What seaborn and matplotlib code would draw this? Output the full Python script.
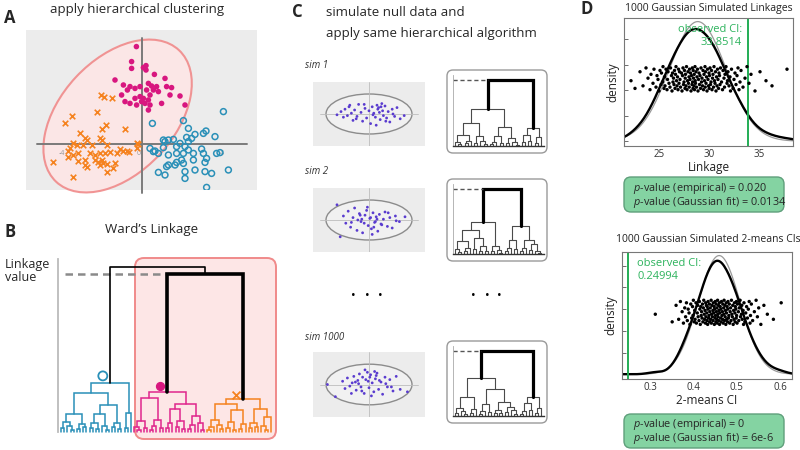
"""
Hierarchical clustering significance figure (panels A-D).
Saves out.png (800x450).
"""

import numpy as np
import matplotlib
matplotlib.use("Agg")
import matplotlib.pyplot as plt
from matplotlib.patches import Ellipse, FancyBboxPatch
from matplotlib.ticker import MaxNLocator
import seaborn as sns


# ---------- Panel A: observed 2-D data ----------
A_PINK_X = [-0.28, -0.52, -0.52, 0.07, 0.20, 0.20, 0.62, -1.35, -0.93, -1.02,
            -0.73, -0.60, -0.35, -0.10, 0.32, 0.48, 0.73, 1.15, 1.23, 1.48,
            0.82, 0.23, 0.40, 0.07, -0.02, 0.15, 0.32, -0.35, -0.60, -0.85,
            -0.10, 1.40, 1.90, 2.15, 0.98, 0.32, -0.27, 0.40, 0.57]
A_PINK_Y = [4.87, 4.12, 3.78, 3.82, 3.92, 3.70, 3.48, 3.20, 2.95, 2.45,
            2.70, 2.87, 2.78, 2.87, 3.03, 2.90, 2.87, 3.28, 2.87, 2.82,
            2.62, 2.70, 2.45, 2.28, 2.12, 2.03, 2.20, 2.28, 2.03, 2.12,
            2.37, 2.45, 2.40, 1.95, 2.03, 1.70, 1.95, 1.95, 2.70]

A_BLUE_X = [4.07, 2.07, 0.52, 2.32, 3.07, 3.20, 3.65, 2.23, 2.48, 2.65,
            1.07, 1.32, 1.57, 1.90, 2.15, 2.32, 2.98, 2.57, 2.07, 1.73,
            1.32, 0.82, 0.57, 0.40, 0.65, 1.07, 1.15, 3.73, 3.90, 3.07,
            3.23, 3.15, 2.57, 1.98, 1.73, 1.65, 1.32, 1.23, 2.07, 2.65,
            2.15, 2.15, 1.15, 0.82, 3.15, 3.48, 4.32, 3.23, 2.32, 1.73]
A_BLUE_Y = [1.62, 1.17, 1.03, 0.78, 0.53, 0.65, 0.37, 0.33, 0.28, 0.48,
            0.20, 0.20, 0.23, 0.03, -0.13, -0.30, -0.25, -0.47, -0.47, -0.47,
            -0.55, -0.47, -0.38, -0.22, -0.35, -0.18, 0.12, -0.47, -0.43, -0.47,
            -0.72, -0.92, -0.80, -0.80, -0.92, -1.05, -1.05, -1.13, -0.97, -1.30,
            -1.38, -1.72, -1.55, -1.42, -1.38, -1.47, -1.30, -2.17, 0.12, -0.13]

A_ORANGE_X = [-2.05, -1.90, -1.52, -3.52, -3.85, -2.27, -1.80, -2.02, -0.85, -3.10,
              -2.85, -2.77, -2.10, -2.02, -3.43, -3.27, -3.60, -2.93, -2.52, -1.77,
              -3.68, -3.43, -3.18, -2.60, -2.35, -2.10, -1.85, -1.60, -1.10, -0.93,
              -0.77, -0.63, -0.27, -0.18, -0.27, -4.43, -3.68, -3.18, -2.85, -2.77,
              -2.18, -2.02, -1.93, -2.10, -1.77, -1.35, -1.43, -1.77, -3.43, -2.85,
              -2.35, -1.27]
A_ORANGE_Y = [2.45, 2.37, 2.32, 1.40, 1.03, 1.58, 0.95, 0.75, 0.75, 0.53,
              0.28, 0.20, 0.28, 0.20, 0.03, -0.05, -0.22, -0.05, -0.05, -0.05,
              -0.35, -0.55, -0.47, -0.47, -0.55, -0.47, -0.47, -0.38, -0.25, -0.35,
              -0.35, -0.38, 0.03, -0.02, -0.22, -0.88, -0.63, -0.85, -0.80, -1.13,
              -0.88, -0.80, -0.97, -1.05, -1.02, -0.97, -1.22, -1.38, -1.63, -1.05,
              -0.80, -0.47]

# cluster ellipse around the merged magenta + orange group
A_ELLIPSE_CENTER = (-1.22, 1.4)
A_ELLIPSE_AXES = (9.0, 5.7)
A_ELLIPSE_ANGLE = 47

# ---------- Panel B: Ward's linkage tree  [height, left, right], leaf = 0 ----------
TREE_BLUE = [10.5,
             [8.3,
              [3.9, [2.2, [0.9, 0, 0], [1.2, 0, [0.5, 0, 0]]], [1.8, [0.7, 0, 0], [1.0, 0, 0]]],
              [5.8, [3.9, [1.9, [0.8, 0, 0], [0.6, 0, 0]], [1.3, 0, [0.4, 0, 0]]],
               [2.0, [1.1, 0, 0], [0.7, 0, 0]]]],
             [4.1, [0.8, 0, 0], 0]]
TREE_MAGENTA = [8.6,
                [7.35, [2.3, [1.0, 0, [0.4, 0, 0]], [0.8, 0, 0]],
                 [2.6, [1.2, [0.5, 0, 0], 0], [0.9, 0, 0]]],
                [6.0, [4.9, [2.0, [0.8, 0, 0], 0], [2.4, [1.0, 0, 0], [0.6, 0, 0]]],
                 [3.5, [1.6, [0.7, 0, 0], 0], [2.0, 0, [0.5, 0, 0]]]]]
TREE_ORANGE = [7.0,
               [6.0, [2.6, [1.0, [0.4, 0, 0], 0], [1.5, 0, [0.6, 0, 0]]],
                [4.6, [2.2, [0.9, 0, 0], [0.5, 0, 0]], [1.7, [0.7, 0, 0], 0]]],
               [5.0, [2.0, [0.8, 0, 0], [1.1, 0, 0]], [3.3, [1.2, 0, [0.4, 0, 0]], 0]]]
LINK_MO = 33.85     # magenta + orange merge (observed linkage)
LINK_TOP = 35.3     # final merge
B_TICKS = [0, 5, 10, 15, 20, 25, 30, 35]

# ---------- Panel C: null simulations ----------
SIM_NAMES = ["sim 1", "sim 2", "sim 1000"]
SIM1_X = [-4.0, -3.5, -3.2, -3.0, -2.7, -2.5, -2.2, -2.0, -1.8, -1.5,
          -1.3, -1.0, -0.8, -0.5, -0.3, 0.0, 0.2, 0.4, 0.6, 0.8,
          1.0, 1.1, 1.3, 1.4, 1.5, 1.7, 1.8, 2.0, 2.2, 2.4,
          2.6, 2.9, 3.2, 3.5, 3.9, 4.4, 0.9, 1.6, -0.6, 2.1,
          -1.6, 0.5, 1.2, -2.4, 3.0]
SIM1_Y = [-0.1, 0.3, -0.4, 0.6, -0.2, 0.9, 0.1, -0.8, 0.5, -0.3,
          1.2, 0.2, -0.9, 0.7, -0.5, 0.4, -1.2, 0.9, 0.1, -0.4,
          1.1, 0.6, 0.2, -0.7, 0.9, 0.4, -0.2, 1.0, -0.5, 0.3,
          -1.0, 0.6, -0.3, 0.8, -0.6, -0.2, -1.4, 1.3, 1.2, -0.9,
          -0.6, -0.1, 0.8, 1.1, 0.0]
SIM2_X = [-4.0, -3.6, -3.2, -2.9, -2.6, -2.3, -2.0, -1.8, -1.5, -1.2,
          -1.0, -0.8, -0.5, -0.3, -0.1, 0.1, 0.3, 0.5, 0.7, 0.9,
          1.1, 1.3, 1.5, 1.8, 2.0, 2.3, 2.6, 2.9, 3.3, 3.8,
          4.5, -1.4, -0.6, 0.2, 0.6, 1.0, -2.2, 1.6, -0.2, 0.4,
          -1.1, 2.4, -0.9, 3.4, 0.8]
SIM2_Y = [1.9, -2.1, 0.5, -0.4, 1.1, -0.9, 0.3, 1.5, -1.3, 0.8,
          -0.2, -1.6, 0.6, 1.2, -0.7, 0.2, -1.1, 0.9, -0.3, 0.4,
          -1.4, 0.7, -0.5, 0.1, 1.0, -0.8, 0.3, -1.0, 0.5, -0.2,
          0.4, 0.0, -0.4, 0.3, -0.9, 0.1, -0.3, -0.6, 1.6, -1.8,
          0.6, 0.9, 0.1, -0.1, -0.2]
SIM1000_X = [-5.2, -4.2, -3.3, -3.0, -2.7, -2.4, -2.1, -1.9, -1.6, -1.4,
             -1.2, -1.0, -0.8, -0.6, -0.4, -0.2, 0.0, 0.2, 0.4, 0.6,
             0.8, 1.0, 1.2, 1.5, 1.7, 2.0, 2.3, 2.6, 3.0, 3.4,
             3.9, 4.8, -0.5, 0.1, 0.7, -1.3, 1.3, -0.9, 0.3, -2.2,
             2.1, -0.1, 0.9, -1.7, 2.8]
SIM1000_Y = [0.0, -1.5, 0.4, -0.5, 0.8, -0.2, 0.2, 1.0, -0.7, 0.5,
             1.3, -0.3, 0.9, -1.1, 0.6, 1.5, -0.4, 1.2, 0.2, -0.9,
             0.7, 1.4, -0.6, 0.3, -1.2, 0.9, -0.3, 0.6, -0.8, 1.0,
             -0.6, -0.9, 1.8, 0.9, 1.6, 0.1, 0.5, -0.8, -1.4, -1.1,
             0.1, 0.4, 1.1, 0.3, -0.3]
SIM_ELLIPSE_AXES = (10.75, 5.0)

TREE_SIM1 = [100,
             [56, [34.5, [16, [6, 0, [3, 0, 0]], [8, [4, 0, 0], 0]],
                   [14.5, [5, 0, 0], [7, 0, [3, 0, 0]]]],
              [29.5, [14.5, [6, [3, 0, 0], 0], [5, 0, 0]],
               [12, [4, 0, 0], [6, 0, [2, 0, 0]]]]],
             [27.5, [17, [6, 0, 0], [8, 0, 0]], [13.5, [5, 0, 0], 0]]]
TREE_SIM2 = [100,
             [50, [37, [20, [7, 0, [3, 0, 0]], [9, [4, 0, 0], 0]],
                   [24, [8, 0, 0], [12, [5, 0, 0], [4, 0, 0]]]],
              [12, [5, 0, 0], [6, 0, [2, 0, 0]]]],
             [43, [22, [9, [4, 0, 0], 0], [7, 0, 0]],
              [22, [10, [4, 0, 0], 0], [15, [6, 0, 0], [5, 0, [2, 0, 0]]]]]]
TREE_SIM1000 = [100,
                [59, [30, [13, [5, 0, 0], [7, 0, [3, 0, 0]]], [11, [4, 0, 0], 0]],
                 [42, [18, [8, [3, 0, 0], 0], [6, 0, 0]],
                  [22, [10, [4, 0, 0], [5, 0, 0]], [14, [6, 0, 0], [9, 0, [3, 0, 0]]]]]],
                [30, [20, [8, [3, 0, 0], 0], [10, 0, 0]], [12, [5, 0, 0], 0]]]

# ---------- Panel D: null distributions (subsample of the 1000 sims) ----------
LINKAGES = [22.2, 22.6, 23.1,
            23.4, 23.7, 23.9, 24.1, 24.2,
            24.4, 24.5, 24.7, 24.8, 24.9, 25.0, 25.1, 25.2, 25.25,
            25.35, 25.4, 25.5, 25.55, 25.6, 25.7, 25.8, 25.85, 25.9, 26.0, 26.1, 26.15, 26.25,
            26.3, 26.35, 26.4, 26.45, 26.5, 26.55, 26.6, 26.65, 26.7, 26.75,
            26.8, 26.85, 26.9, 26.95, 27.0, 27.05, 27.1, 27.15, 27.25,
            27.3, 27.35, 27.4, 27.45, 27.5, 27.55, 27.6, 27.62, 27.65, 27.7, 27.75,
            27.8, 27.85, 27.9, 27.95, 28.0, 28.02, 28.05, 28.1, 28.15, 28.2, 28.25,
            28.3, 28.33, 28.36, 28.4, 28.42, 28.45, 28.5, 28.52, 28.55, 28.6, 28.62, 28.65,
            28.7, 28.75, 28.8, 28.85, 28.9, 28.95, 29.0, 29.05, 29.1, 29.15, 29.2, 29.25,
            29.3, 29.35, 29.4, 29.45, 29.5, 29.55, 29.6, 29.62, 29.65, 29.7, 29.75,
            29.8, 29.85, 29.9, 29.95, 30.0, 30.02, 30.05, 30.1, 30.15, 30.2, 30.25,
            30.3, 30.35, 30.4, 30.45, 30.5, 30.55, 30.6, 30.65, 30.7, 30.75,
            30.8, 30.85, 30.9, 30.95, 31.0, 31.05, 31.1, 31.15, 31.25,
            31.35, 31.4, 31.5, 31.55, 31.6, 31.7, 31.8, 31.85, 31.9, 32.0, 32.1, 32.15, 32.25,
            32.4, 32.5, 32.6, 32.7, 32.8, 32.9, 33.0, 33.1, 33.2,
            33.4, 33.6, 33.8, 34.0, 34.2,
            34.6, 35.1, 35.7, 36.3, 37.8]
KMEANS_CI = [0.312, 0.351, 0.360,
             0.366, 0.370, 0.374, 0.377, 0.380,
             0.382, 0.384, 0.386, 0.388, 0.390, 0.392, 0.394, 0.396, 0.398,
             0.399, 0.400, 0.402, 0.403, 0.404, 0.406, 0.407, 0.409, 0.410, 0.411, 0.413,
             0.414, 0.415,
             0.416, 0.417, 0.418, 0.419, 0.420, 0.421, 0.422, 0.423, 0.424, 0.425,
             0.426, 0.427, 0.428, 0.4285, 0.429, 0.430, 0.431, 0.4315, 0.432,
             0.433, 0.4335, 0.434, 0.435, 0.436, 0.437, 0.4375, 0.438, 0.439, 0.440, 0.441,
             0.4415, 0.442, 0.443, 0.444, 0.445, 0.4455, 0.446, 0.447, 0.448, 0.4485, 0.449,
             0.450, 0.4505, 0.451, 0.452, 0.4525, 0.453, 0.454, 0.4545, 0.455, 0.456, 0.4565,
             0.457, 0.458, 0.4585, 0.459, 0.460, 0.4605, 0.461, 0.462, 0.463, 0.4635, 0.464,
             0.465, 0.466,
             0.467, 0.4675, 0.468, 0.469, 0.470, 0.4705, 0.471, 0.472, 0.473, 0.4735, 0.474,
             0.475, 0.476, 0.4765, 0.477, 0.478, 0.479, 0.4795, 0.480, 0.481, 0.482, 0.483,
             0.484, 0.485, 0.486, 0.487, 0.488, 0.489, 0.490, 0.491, 0.492, 0.493,
             0.494, 0.495, 0.496, 0.4965, 0.497, 0.498, 0.499, 0.4995, 0.500,
             0.501, 0.502, 0.504, 0.505, 0.506, 0.508, 0.509, 0.511, 0.512, 0.513, 0.515,
             0.516, 0.517,
             0.519, 0.521, 0.523, 0.525, 0.527, 0.529, 0.531, 0.532, 0.534,
             0.537, 0.541, 0.545, 0.548, 0.551,
             0.556, 0.563, 0.571, 0.585, 0.603]
# vertical jitter of the strip, percent of axes height
JITTER = [51, 45, 58, 47, 61, 53, 44, 56, 49, 60, 46, 55, 52, 43, 59, 48, 57, 50, 62, 45,
          54, 47, 60, 44, 52, 58, 49, 46, 61, 55, 43, 57, 50, 53, 48, 59, 45, 56, 62, 51,
          47, 54, 44, 60, 49, 58, 52, 46, 57, 43, 55, 61, 48, 50, 59, 45, 53, 56, 47, 62,
          44, 51, 58, 49, 54, 46, 60, 52, 57, 43, 55, 48, 61, 50, 45, 59, 53, 47, 56, 44,
          62, 51, 49, 58, 46, 54, 60, 43, 52, 57, 48, 55, 45, 61, 50, 53, 47, 59, 44, 56,
          51, 62, 46, 58, 49, 54, 43, 60, 52, 47, 57, 45, 55, 61, 48, 50, 59, 44, 53, 56,
          46, 62, 51, 49, 58, 43, 54, 47, 60, 52, 45, 57, 55, 48, 61, 50, 44, 59, 53, 46,
          56, 62, 49, 51, 58, 47, 54, 43, 60, 45, 52, 57, 48, 55, 61, 44, 50, 59, 46, 53,
          62, 49, 56, 43, 58, 51, 47, 60]
OBS_LINKAGE = 33.8514
OBS_CI = 0.24994
P_LINKAGE = ("0.020", "0.0134")
P_CI = ("0", "6e-6")

# ---------- Style ----------
W, H = 800, 450
BLUE = "#2a90b8"
MAGENTA = "#d8177f"
ORANGE = "#f5821f"
PINK_FILL = "#fde6e6"
PINK_EDGE = "#f08a8a"
GREEN = "#22ad55"
PURPLE = "#5a3ccf"


def px_axes(fig, x0, y0, x1, y1, **kw):
    """Axes placed by pixel box (top-left origin)."""
    return fig.add_axes([x0 / W, 1 - y1 / H, (x1 - x0) / W, (y1 - y0) / H], **kw)


def tree_segments(node, pos, segs):
    if node == 0:
        x = pos[0]
        pos[0] += 1
        return x, 0.0
    h, left, right = node
    xl, hl = tree_segments(left, pos, segs)
    xr, hr = tree_segments(right, pos, segs)
    segs.append(([xl, xl, xr, xr], [hl, h, h, hr]))
    return (xl + xr) / 2, h


def count_leaves(node):
    return 1 if node == 0 else count_leaves(node[1]) + count_leaves(node[2])


def clean(ax):
    ax.set_xticks([])
    ax.set_yticks([])
    for s in ax.spines.values():
        s.set_visible(False)


def panel_a(fig):
    ax = px_axes(fig, 26, 30, 257, 190, zorder=1)
    ax.set_facecolor("#ececec")
    clean(ax)
    ax.set_xlim(-5.8, 5.75)
    ax.set_ylim(-2.3, 5.7)
    ax.add_patch(Ellipse(A_ELLIPSE_CENTER, *A_ELLIPSE_AXES, angle=A_ELLIPSE_ANGLE,
                         fc=PINK_FILL, ec=PINK_EDGE, lw=1.5, alpha=0.9, clip_on=False, zorder=1))
    ax.plot([-5.25, 5.25], [0, 0], color="#7a7a7a", lw=1.4, zorder=2)
    ax.plot([0, 0], [-2.45, 5.3], color="#7a7a7a", lw=1.4, zorder=2, clip_on=False)
    for v, lab in [(-4, "-4"), (-0.15, "0"), (4, "4")]:
        ax.text(v, -0.3, lab, fontsize=5, color="#999999", ha="center", va="top", zorder=2)
    sns.scatterplot(x=A_PINK_X, y=A_PINK_Y, ax=ax, color=MAGENTA, s=16,
                    edgecolor="none", zorder=3)
    sns.scatterplot(x=A_BLUE_X, y=A_BLUE_Y, ax=ax, facecolors="none", edgecolor=BLUE,
                    s=18, linewidth=1.1, zorder=3)
    sns.scatterplot(x=A_ORANGE_X, y=A_ORANGE_Y, ax=ax, marker="x", color=ORANGE,
                    s=16, linewidth=1.2, zorder=3)


def panel_b(fig):
    ax = px_axes(fig, 58, 259, 278, 432, zorder=1)
    ax.set_facecolor("none")
    pos = [0]
    roots = []
    for tree, col in [(TREE_BLUE, BLUE), (TREE_MAGENTA, "#e0258c"), (TREE_ORANGE, ORANGE)]:
        segs = []
        rx, rh = tree_segments(tree, pos, segs)
        roots.append((rx, rh))
        for xs, ys in segs:
            ax.plot(xs, ys, color=col, lw=1.1, clip_on=False, solid_joinstyle="miter")
    n = pos[0]
    s = 210 / (n - 1)
    x0 = -3 / s
    ax.set_xlim(x0, x0 + 220 / s)
    ax.set_ylim(0, 37)

    (bx, bh), (mx, mh), (ox, oh) = roots
    mo_x = (mx + ox) / 2
    ax.plot([x0 + 7 / s, mx], [LINK_MO, LINK_MO], color="#8a8a8a", lw=1.8,
            ls=(0, (3, 2)), zorder=1)
    ax.plot([bx, bx, mo_x, mo_x], [bh, LINK_TOP, LINK_TOP, LINK_MO], color="black", lw=1.2)
    ax.plot([mx, mx, ox, ox], [mh, LINK_MO, LINK_MO, oh], color="black", lw=2.6,
            solid_joinstyle="miter")

    dx = -7 / s
    ax.scatter(bx + dx, bh + 1.5, s=42, facecolors="none", edgecolors=BLUE, lw=1.3)
    ax.scatter(mx + dx, mh + 1.3, s=32, color=MAGENTA)
    ax.scatter(ox + dx, oh + 1.0, s=32, marker="x", color=ORANGE, lw=1.3)

    for k in ["top", "right", "bottom"]:
        ax.spines[k].set_visible(False)
    ax.spines["left"].set_color("#bbbbbb")
    ax.spines["left"].set_linewidth(1.3)
    ax.set_xticks([])
    ax.set_yticks(B_TICKS)
    ax.tick_params(axis="y", length=2, width=0.8, color="#bbbbbb", labelleft=False)


def panel_c(fig, bg):
    sims = [(SIM1_X, SIM1_Y, TREE_SIM1), (SIM2_X, SIM2_Y, TREE_SIM2),
            (SIM1000_X, SIM1000_Y, TREE_SIM1000)]
    scatter_rows = [(82, 146), (188, 252), (352, 417)]
    dendro_rows = [(70, 153), (179, 261), (341, 423)]
    label_rows = [66, 172, 337]
    for (sx, sy, tree), name, (sy0, sy1), (dy0, dy1), ly in zip(
            sims, SIM_NAMES, scatter_rows, dendro_rows, label_rows):
        bg.text(305, ly, name, fontsize=7, style="italic", color="#333333",
                ha="left", va="center")

        ax = px_axes(fig, 313, sy0, 425, sy1, zorder=1)
        ax.set_facecolor("#ececec")
        clean(ax)
        ax.set_xlim(-7, 7)
        ax.set_ylim(-4, 4)
        ax.plot([-6.1, 6.1], [0, 0], color="#bdbdbd", lw=0.6)
        ax.plot([0, 0], [-4, 4], color="#bdbdbd", lw=0.6)
        ax.add_patch(Ellipse((0, 0), *SIM_ELLIPSE_AXES, fc="#f1f1f1", ec="#8c8c8c",
                             lw=1.0, zorder=1))
        sns.scatterplot(x=sx, y=sy, ax=ax, color=PURPLE, s=4, edgecolor="none", zorder=3)

        bg.add_patch(FancyBboxPatch((447, dy0), 100, dy1 - dy0,
                                    boxstyle="round,pad=0,rounding_size=6",
                                    fc="white", ec="#9a9a9a", lw=1.0))
        ax2 = px_axes(fig, 453, dy0 + 5, 544, dy1 - 7, zorder=1)
        ax2.set_facecolor("none")
        segs = []
        tree_segments(tree, [0], segs)
        n = count_leaves(tree)
        s = (544 - 453 - 5) / (n - 1)
        x0 = -2 / s
        ax2.set_xlim(x0, x0 + (544 - 453) / s)
        ax2.set_ylim(0, 108)
        for xs, ys in segs[:-1]:
            ax2.plot(xs, ys, color="#4a4a4a", lw=0.8, clip_on=False)
        xs, ys = segs[-1]
        ax2.plot(xs, ys, color="black", lw=2.3, solid_joinstyle="miter")
        ax2.plot([x0, xs[0]], [ys[1], ys[1]], color="#555555", lw=1.0, ls=(0, (3, 2)))
        for k in ["top", "right"]:
            ax2.spines[k].set_visible(False)
        ax2.spines["left"].set_color("#aaaaaa")
        ax2.spines["left"].set_linewidth(0.6)
        ax2.spines["bottom"].set_color("#333333")
        ax2.spines["bottom"].set_linewidth(1.0)
        ax2.set_xticks([])
        ax2.set_yticks([0, 15, 30, 45, 60, 75, 90, 105])
        ax2.tick_params(axis="y", length=1.5, width=0.5, color="#aaaaaa", labelleft=False)

    for cx in (353, 367, 380, 473, 487, 499):
        bg.text(cx, 295, "\u2022", fontsize=9, ha="center", va="center", color="black")


def density_panel(ax, vals, obs, xlim, xticks, xlabel, note_x, note_ha):
    vals = np.asarray(vals)
    mu, sd = vals.mean(), vals.std()
    xs = np.linspace(xlim[0], xlim[1], 300)
    fit = np.exp(-0.5 * ((xs - mu) / sd) ** 2) / (sd * np.sqrt(2 * np.pi))
    sns.lineplot(x=xs, y=fit, ax=ax, color="#9a9a9a", lw=0.9)
    sns.kdeplot(x=vals, ax=ax, color="black", lw=1.7, cut=6)
    peak = fit.max()
    ax.set_xlim(*xlim)
    ax.set_ylim(-0.04 * peak, 1.03 * peak)
    ax.axvline(obs, color=GREEN, lw=1.4)
    ax.set_xticks(xticks)
    ax.set_xticklabels([f"{t:g}" for t in xticks])
    ax.yaxis.set_major_locator(MaxNLocator(6))
    ax.tick_params(axis="both", direction="in", length=3, width=0.6, color="#555555",
                   labelsize=7, labelcolor="#333333", pad=2, labelleft=False)
    ax.set_xlabel(xlabel, fontsize=8.5, labelpad=1, color="#222222")
    ax.set_ylabel("density", fontsize=8.5, labelpad=3, color="#222222")
    for sp in ax.spines.values():
        sp.set_color("#777777")
        sp.set_linewidth(0.8)
    ax.text(note_x, 0.95, f"observed CI:\n{obs:g}", transform=ax.get_xaxis_transform(),
            ha=note_ha, va="top", fontsize=8, color="#2db35d", linespacing=1.2,
            multialignment=note_ha)

    n = min(len(vals), len(JITTER))
    strip = ax.twinx()
    strip.set_ylim(0, 1)
    sns.scatterplot(x=vals[:n], y=[j / 100 for j in JITTER[:n]], ax=strip, color="black",
                    s=6, edgecolor="none")
    strip.set_yticks([])
    strip.set_ylabel("")
    for sp in strip.spines.values():
        sp.set_visible(False)


def panel_d(fig, bg):
    ax = px_axes(fig, 624, 18, 793, 146, zorder=1)
    density_panel(ax, LINKAGES, OBS_LINKAGE, (21.5, 38.4), [25, 30, 35], "Linkage",
                  33.3, "right")
    ax = px_axes(fig, 622, 252, 792, 379, zorder=1)
    density_panel(ax, KMEANS_CI, OBS_CI, (0.235, 0.628), [0.3, 0.4, 0.5, 0.6],
                  "2-means CI", 0.27, "left")

    bg.text(709, 8, "1000 Gaussian Simulated Linkages", fontsize=7.5, ha="center",
            va="center", color="#222222")
    bg.text(708, 240, "1000 Gaussian Simulated 2-means CIs", fontsize=7.5, ha="center",
            va="center", color="#222222")
    for (y0, y1), (pe, pg) in [((177, 212), P_LINKAGE), ((414, 448), P_CI)]:
        bg.add_patch(FancyBboxPatch((624, y0), 160, y1 - y0,
                                    boxstyle="round,pad=0,rounding_size=7",
                                    fc="#84d3a2", ec="#5f9f7b", lw=1.0))
        bg.text(633, y0 + 11, r"$\it{p}$-value (empirical) = " + pe, fontsize=7.8,
                ha="left", va="center")
        bg.text(633, y0 + 25, r"$\it{p}$-value (Gaussian fit) = " + pg, fontsize=7.8,
                ha="left", va="center")


def main():
    sns.set_theme(style="white")
    plt.rcParams["font.family"] = ["Open Sans", "DejaVu Sans"]
    plt.rcParams.update({
        "mathtext.fontset": "custom",
        "mathtext.rm": "Open Sans",
        "mathtext.it": "Open Sans:italic",
    })

    fig = plt.figure(figsize=(8, 4.5), dpi=100)
    bg = fig.add_axes([0, 0, 1, 1], zorder=0)
    bg.set_xlim(0, W)
    bg.set_ylim(H, 0)
    bg.axis("off")

    # panel letters and headings
    for x, y, lab in [(10, 18, "A"), (10, 232, "B"), (297, 12, "C"), (587, 9, "D")]:
        bg.text(x, y, lab, fontsize=12, fontweight="bold", ha="center", va="center")
    bg.text(137, 10, "apply hierarchical clustering", fontsize=9.5, ha="center", va="center")
    bg.text(152, 229, "Ward\u2019s Linkage", fontsize=9.5, ha="center", va="center")
    bg.text(5, 271, "Linkage\nvalue", fontsize=9, ha="left", va="center", linespacing=1.0)
    bg.text(326, 12, "simulate null data and", fontsize=9.5, ha="left", va="center")
    bg.text(326, 33, "apply same hierarchical algorithm", fontsize=9.5, ha="left", va="center")

    bg.add_patch(FancyBboxPatch((135, 258), 141, 181, boxstyle="round,pad=0,rounding_size=9",
                                fc=PINK_FILL, ec=PINK_EDGE, lw=1.4))

    panel_a(fig)
    panel_b(fig)
    panel_c(fig, bg)
    panel_d(fig, bg)

    fig.savefig("out.png", dpi=100)
    plt.close(fig)


if __name__ == "__main__":
    main()
